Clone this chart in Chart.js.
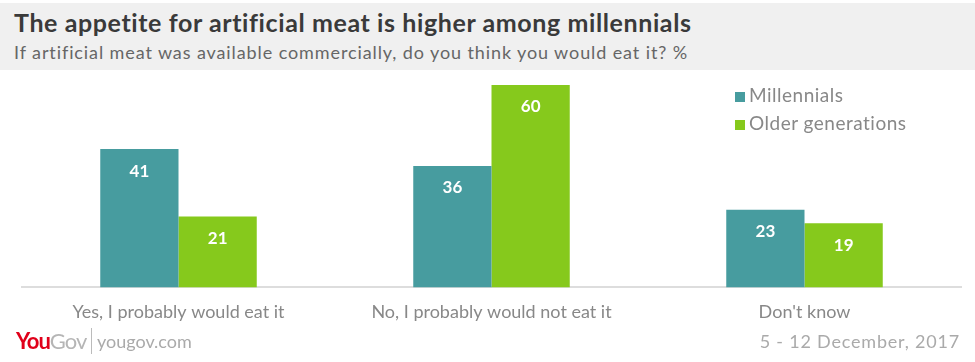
<!DOCTYPE html>
<html>
<head>
<meta charset="utf-8">
<script src="https://cdn.jsdelivr.net/npm/chart.js@4.4.1/dist/chart.umd.min.js"></script>
<style>
  body { margin: 0; background: #fff; font-family: Lato, "Open Sans", sans-serif; }
  #wrap { position: relative; width: 975px; height: 362px; overflow: hidden; }
  #header { position: absolute; left: 0; top: 3px; width: 975px; height: 67px; background: #f0f0f0; }
  #title { position: absolute; left: 14px; top: 4px; font-size: 25px; letter-spacing: 0.6px; font-weight: bold; color: #3a3a3a; white-space: nowrap; }
  #subtitle { position: absolute; left: 14px; top: 38px; font-size: 18px; letter-spacing: 0.9px; color: #666; white-space: nowrap; }
  #chart { position: absolute; left: 0; top: 0; }
  #legend { position: absolute; left: 735px; top: 83px; }
  .item { height: 28px; font-size: 19px; letter-spacing: 0.5px; color: #888; white-space: nowrap; }
  .box { display: inline-block; width: 10px; height: 10px; margin-right: 4px; }
  #logo { position: absolute; left: 16px; top: 327px; font-size: 22px; font-weight: bold; letter-spacing: -1px; }
  #logo .you { color: #e0001a; }
  #logo .gov { color: #b5b5b5; font-weight: normal; }
  #sep { position: absolute; left: 91px; top: 328px; width: 1px; height: 26px; background: #bbb; }
  #site { position: absolute; left: 97px; top: 330px; font-size: 18px; color: #aaa; }
  #date { position: absolute; right: 15px; top: 330px; font-size: 18px; letter-spacing: 0.8px; color: #aaa; }
</style>
</head>
<body>
<div id="wrap">
  <div id="header">
    <div id="title">The appetite for artificial meat is higher among millennials</div>
    <div id="subtitle">If artificial meat was available commercially, do you think you would eat it? %</div>
  </div>
  <canvas id="chart" width="975" height="362"></canvas>
  <div id="legend"></div>
  <div id="logo"><span class="you">You</span><span class="gov">Gov</span></div>
  <div id="sep"></div>
  <div id="site">yougov.com</div>
  <div id="date">5 - 12 December, 2017</div>
</div>
<script>
// answers to the question
const categories = ['Yes, I probably would eat it', 'No, I probably would not eat it', "Don't know"];
const seriesNames = ['Millennials', 'Older generations'];
const millennials = [41, 36, 23];
const olderGenerations = [21, 60, 19];
// teal, green
const seriesColors = ['#479c9f', '#86c91c'];

// white value labels inside bar tops
const valueLabels = {
    id: 'valueLabels',
    afterDatasetsDraw(chart) {
        const ctx = chart.ctx;
        ctx.save();
        ctx.fillStyle = '#fff';
        ctx.font = 'bold 17px Lato, sans-serif';
        ctx.textAlign = 'center';
        ctx.textBaseline = 'middle';
        chart.data.datasets.forEach(function (ds, i) {
            chart.getDatasetMeta(i).data.forEach(function (bar, j) {
                ctx.fillText(ds.data[j], bar.x, bar.y + 22);
            });
        });
        ctx.restore();
    }
};

function buildLegend() {
    const legend = document.getElementById('legend');
    seriesNames.forEach(function (name, i) {
        const row = document.createElement('div');
        row.className = 'item';
        row.innerHTML = '<span class="box" style="background:' + seriesColors[i] + '"></span>' + name;
        legend.appendChild(row);
    });
}

function createBarChart(canvasId) {
    const chartData = {
        labels: categories,
        datasets: [
            { label: seriesNames[0], data: millennials, backgroundColor: seriesColors[0] },
            { label: seriesNames[1], data: olderGenerations, backgroundColor: seriesColors[1] }
        ]
    };
    const chartOptions = {
        responsive: false,
        animation: false,
        layout: { padding: { left: 22, right: 14, top: 85, bottom: 25 } },
        plugins: { legend: { display: false }, tooltip: { enabled: false } },
        datasets: { bar: { categoryPercentage: 0.5, barPercentage: 1.0, borderWidth: 0 } },
        scales: {
            x: {
                grid: { display: false, drawTicks: false },
                border: { display: true, color: '#dddddd', width: 2 },
                ticks: { color: '#888', font: { family: 'Lato', size: 18 }, padding: 14 }
            },
            y: { display: false, min: 0, max: 60 }
        }
    };
    new Chart(document.getElementById(canvasId), {
        type: 'bar',
        data: chartData,
        options: chartOptions,
        plugins: [valueLabels]
    });
}

buildLegend();
createBarChart('chart');
</script>
</body>
</html>
